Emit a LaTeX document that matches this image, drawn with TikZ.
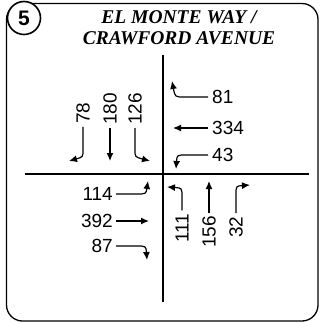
\documentclass[tikz,border=0pt]{standalone}
\usepackage{fontspec}
\setmainfont{Liberation Serif}
\newfontfamily\numfont{Liberation Sans}
\usetikzlibrary{arrows.meta}
\tikzset{
  num/.style={font=\numfont\fontsize{19}{19}\selectfont, inner sep=0pt},
  arr/.style={line width=1.2pt, -{Latex[length=8pt,width=7pt]}},
  road/.style={line width=2pt},
  ttl/.style={font=\bfseries\itshape\fontsize{19.5}{19.5}\selectfont, inner sep=0pt}
}
\begin{document}
\begin{tikzpicture}[x=1pt,y=-1pt]
\useasboundingbox (0,0) rectangle (320,323);
\draw[line width=1.3pt, rounded corners=16pt] (6.5,3.5) rectangle (318,321);
\node[circle, draw, fill=white, line width=1.6pt, minimum size=33pt, inner sep=0pt,
  font=\numfont\bfseries\fontsize{21}{21}\selectfont] (c5) at (24,18) {5};
\node[ttl] (t1) at (179,17) {EL MONTE WAY /};
\node[ttl] (t2) at (179,38) {CRAWFORD AVENUE};
% roads
\coordinate (vn) at (163,55);
\coordinate (vs) at (163,302);
\coordinate (hw) at (25,174);
\coordinate (he) at (309,174);
\draw[road] (vn) -- (vs);
\draw[road] (hw) -- (he);
% southbound
\node[num, rotate=90] (l78) at (83,113) {78};
\node[num, rotate=90] (l180) at (110,109) {180};
\node[num, rotate=90] (l126) at (135,109) {126};
\coordinate (s1) at (69,161);
\coordinate (s2) at (110,161);
\coordinate (s3) at (150,161);
\draw[arr] (l78.west) ++(0,3) -- (83,150) .. controls (83,157) .. (s1);
\draw[arr] (l180.west) ++(0,3) -- (s2);
\draw[arr] (l126.west) ++(0,3) -- (135,150) .. controls (135,157) .. (s3);
% westbound
\node[num, anchor=west] (l81) at (212,97) {81};
\node[num, anchor=west] (l334) at (212,128) {334};
\node[num, anchor=west] (l43) at (212,155) {43};
\coordinate (w1) at (172,81);
\coordinate (w2) at (173,128);
\coordinate (w3) at (176,169);
\draw[arr] (l81.west) ++(-4,0) -- (184,97) .. controls (175,97) .. (w1);
\draw[arr] (l334.west) ++(-4,0) -- (w2);
\draw[arr] (l43.west) ++(-4,0) -- (186,155) .. controls (177,155) .. (w3);
% eastbound
\node[num, anchor=east] (l114) at (113,194) {114};
\node[num, anchor=east] (l392) at (113,221) {392};
\node[num, anchor=east] (l87) at (113,246) {87};
\coordinate (e1) at (148,181);
\coordinate (e2) at (149,221);
\coordinate (e3) at (147,260);
\draw[arr] (l114.east) ++(3,0) -- (136,194) .. controls (146,194) .. (e1);
\draw[arr] (l392.east) ++(3,0) -- (e2);
\draw[arr] (l87.east) ++(3,0) -- (136,246) .. controls (146,246) .. (e3);
% northbound
\node[num, rotate=90] (l111) at (182,228) {111};
\node[num, rotate=90] (l156) at (209,232) {156};
\node[num, rotate=90] (l32) at (236,227) {32};
\coordinate (n1) at (167,187);
\coordinate (n2) at (209,181);
\coordinate (n3) at (250,185);
\draw[arr] (l111.east) ++(0,-3) -- (182,197) .. controls (182,188) .. (n1);
\draw[arr] (l156.east) ++(0,-3) -- (n2);
\draw[arr] (l32.east) ++(0,-3) -- (236,195) .. controls (236,186) .. (n3);
\end{tikzpicture}
\end{document}
